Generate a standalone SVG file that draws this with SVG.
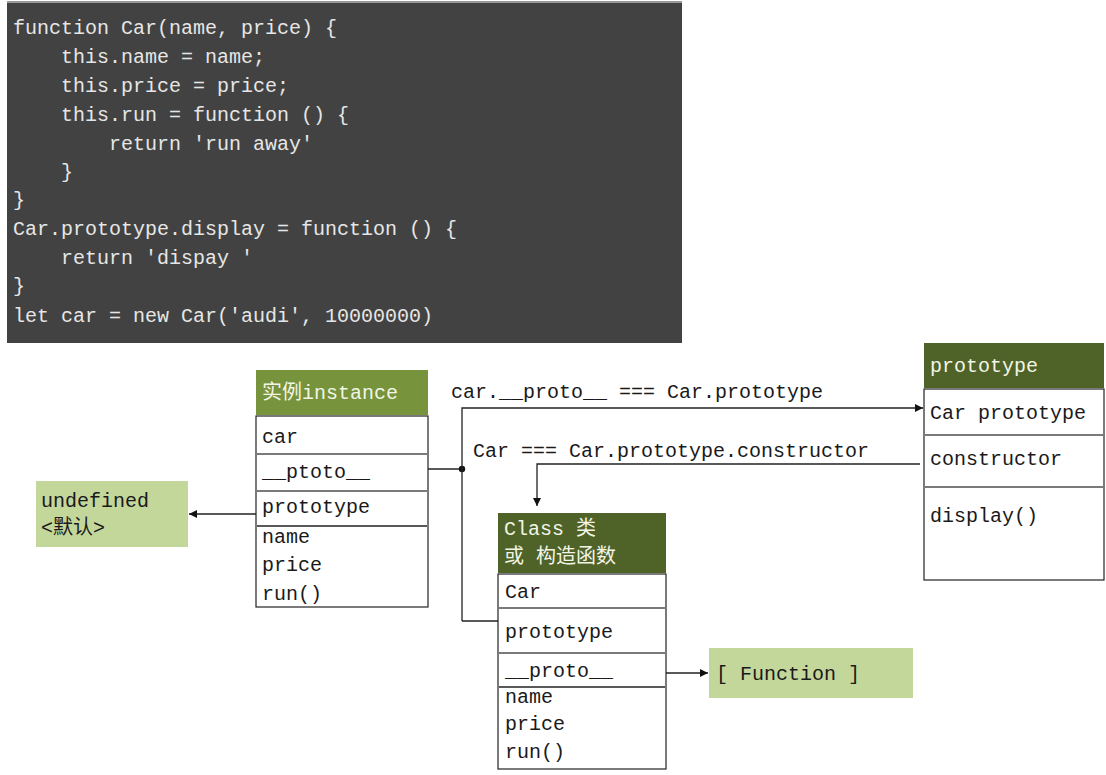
<svg xmlns="http://www.w3.org/2000/svg" width="1106" height="775" viewBox="0 0 1106 775">
  <style>
    text { font-family: "Liberation Mono", "Noto Sans CJK SC", monospace; font-size: 20px; }
    .code { fill: #e6e6e6; }
    .dark { fill: #1a1a1a; }
    .hdr-light { fill: #f2f5e6; }
    .box { fill: #ffffff; stroke: #222; stroke-width: 1.2; }
    .sep { stroke: #7a7a7a; stroke-width: 2; }
    .wire { fill: none; stroke: #222; stroke-width: 1.3; }
    .note { fill: #c4d79b; }
  </style>
  <defs>
    <marker id="arrow" viewBox="0 0 10 10" refX="10" refY="5" markerWidth="10" markerHeight="8" markerUnits="userSpaceOnUse" orient="auto">
      <path d="M0,0 L10,5 L0,10 Z" fill="#111"/>
    </marker>
  </defs>

  <!-- code listing -->
  <g id="code">
    <rect x="7" y="1" width="675" height="342" fill="#424242"/>
    <rect x="7" y="1" width="675" height="2" fill="#9a9a9a"/>
    <text class="code" xml:space="preserve" x="13" y="34">function Car(name, price) {</text>
    <text class="code" xml:space="preserve" x="13" y="63">    this.name = name;</text>
    <text class="code" xml:space="preserve" x="13" y="92">    this.price = price;</text>
    <text class="code" xml:space="preserve" x="13" y="121">    this.run = function () {</text>
    <text class="code" xml:space="preserve" x="13" y="150">        return 'run away'</text>
    <text class="code" xml:space="preserve" x="13" y="178">    }</text>
    <text class="code" xml:space="preserve" x="13" y="206">}</text>
    <text class="code" xml:space="preserve" x="13" y="235">Car.prototype.display = function () {</text>
    <text class="code" xml:space="preserve" x="13" y="264">    return 'dispay '</text>
    <text class="code" xml:space="preserve" x="13" y="292">}</text>
    <text class="code" xml:space="preserve" x="13" y="322">let car = new Car('audi', 10000000)</text>
  </g>

  <!-- connectors -->
  <g id="connectors">
    <line class="wire" x1="256" y1="514" x2="189" y2="514" marker-end="url(#arrow)"/>
    <line class="wire" x1="428" y1="469" x2="462" y2="469"/>
    <circle cx="462" cy="469" r="3.2" fill="#111"/>
    <polyline class="wire" points="462,621 462,408 923,408" marker-end="url(#arrow)"/>
    <line class="wire" x1="462" y1="621" x2="498" y2="621"/>
    <polyline class="wire" points="920,464 537,464 537,506" marker-end="url(#arrow)"/>
    <line class="wire" x1="666" y1="673" x2="708" y2="673" marker-end="url(#arrow)"/>
    <text class="dark" xml:space="preserve" x="451" y="398">car.__proto__ === Car.prototype</text>
    <text class="dark" xml:space="preserve" x="473" y="457">Car === Car.prototype.constructor</text>
  </g>

  <!-- instance -->
  <g id="instance">
    <rect x="256" y="370" width="172" height="45" fill="#77933c"/>
    <text class="hdr-light" x="262" y="399">实例instance</text>
    <rect class="box" x="256" y="416" width="172" height="191"/>
    <line class="sep" x1="257" y1="454" x2="427" y2="454"/>
    <line class="sep" x1="257" y1="491" x2="427" y2="491"/>
    <line class="wire" x1="257" y1="526" x2="427" y2="526"/>
    <text class="dark" x="262" y="443">car</text>
    <text class="dark" x="262" y="478">__ptoto__</text>
    <text class="dark" x="262" y="513">prototype</text>
    <text class="dark" x="262" y="543">name</text>
    <text class="dark" x="262" y="571">price</text>
    <text class="dark" x="262" y="600">run()</text>
  </g>

  <!-- default value -->
  <g id="undefined">
    <rect class="note" x="36" y="481" width="152" height="66"/>
    <text class="dark" x="41" y="507">undefined</text>
    <text class="dark" x="41" y="534">&lt;默认&gt;</text>
  </g>

  <!-- prototype object -->
  <g id="prototype">
    <rect x="924" y="343" width="180" height="45" fill="#4f6228"/>
    <text class="hdr-light" x="930" y="372">prototype</text>
    <rect class="box" x="924" y="389" width="180" height="191"/>
    <line class="sep" x1="925" y1="435" x2="1103" y2="435"/>
    <line class="sep" x1="925" y1="487" x2="1103" y2="487"/>
    <text class="dark" x="930" y="419">Car prototype</text>
    <text class="dark" x="930" y="465">constructor</text>
    <text class="dark" x="930" y="522">display()</text>
  </g>

  <!-- constructor function -->
  <g id="class">
    <rect x="498" y="513" width="168" height="60" fill="#4f6228"/>
    <text class="hdr-light" x="504" y="535">Class 类</text>
    <text class="hdr-light" x="504" y="563">或 构造函数</text>
    <rect class="box" x="498" y="574" width="168" height="195"/>
    <line class="sep" x1="499" y1="608" x2="665" y2="608"/>
    <line class="sep" x1="499" y1="653" x2="665" y2="653"/>
    <line class="wire" x1="499" y1="687" x2="665" y2="687"/>
    <text class="dark" x="505" y="598">Car</text>
    <text class="dark" x="505" y="638">prototype</text>
    <text class="dark" x="505" y="677">__proto__</text>
    <text class="dark" x="505" y="703">name</text>
    <text class="dark" x="505" y="730">price</text>
    <text class="dark" x="505" y="758">run()</text>
  </g>

  <!-- Function -->
  <g id="function">
    <rect class="note" x="709" y="648" width="204" height="50"/>
    <text class="dark" xml:space="preserve" x="716" y="680">[ Function ]</text>
  </g>
</svg>
